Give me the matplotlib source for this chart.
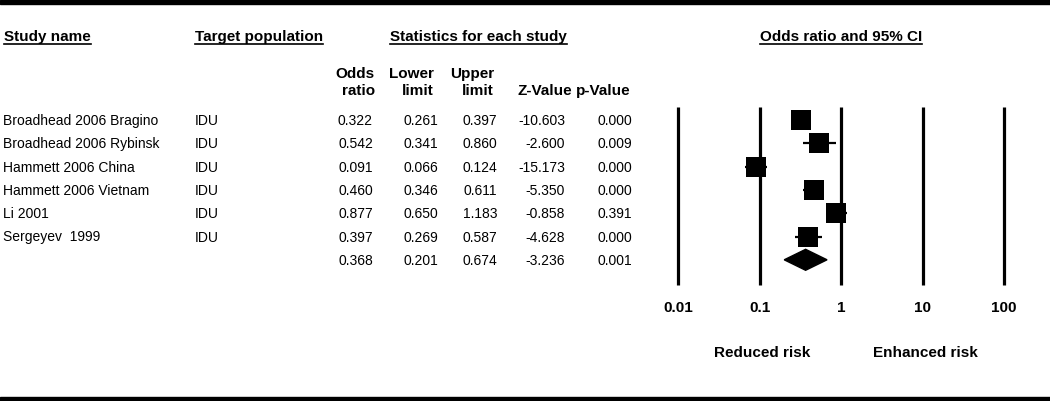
import matplotlib
matplotlib.use("Agg")
import matplotlib.pyplot as plt
from matplotlib.patches import Polygon, Rectangle

plt.rcParams['font.family'] = ['Liberation Sans', 'DejaVu Sans']

# data
studies = ["Broadhead 2006 Bragino", "Broadhead 2006 Rybinsk", "Hammett 2006 China",
           "Hammett 2006 Vietnam", "Li 2001", "Sergeyev  1999"]
population = ["IDU", "IDU", "IDU", "IDU", "IDU", "IDU"]
odds_ratio = [0.322, 0.542, 0.091, 0.460, 0.877, 0.397]
lower = [0.261, 0.341, 0.066, 0.346, 0.650, 0.269]
upper = [0.397, 0.860, 0.124, 0.611, 1.183, 0.587]
z_value = [-10.603, -2.600, -15.173, -5.350, -0.858, -4.628]
p_value = [0.000, 0.009, 0.000, 0.000, 0.391, 0.000]
summary = {"or": 0.368, "lower": 0.201, "upper": 0.674, "z": -3.236, "p": 0.001}
col_headers = ["Odds\nratio", "Lower\nlimit", "Upper\nlimit", "Z-Value", "p-Value"]
ticks = [0.01, 0.1, 1, 10, 100]
tick_labels = ["0.01", "0.1", "1", "10", "100"]

W, H = 1050, 401
fig = plt.figure(figsize=(W / 100, H / 100), dpi=100)
bg = fig.add_axes([0, 0, 1, 1])
bg.set_xlim(0, W)
bg.set_ylim(H, 0)
bg.axis('off')

# black bands top and bottom
bg.add_patch(Rectangle((0, 0), W, 3.5, color='black'))
bg.add_patch(Rectangle((0, H - 4.5), W, 4.5, color='black'))

row0, row_h = 120, 23.3
def row_px(i):
    return row0 + i * row_h

# underlined headers
headers = [("Study name", 4), ("Target population", 195),
           ("Statistics for each study", 390), ("Odds ratio and 95% CI", 760)]
htexts = []
for txt, x in headers:
    htexts.append(bg.text(x, 41, txt, fontsize=11, fontweight='bold', ha='left', va='baseline'))
fig.canvas.draw()
r = fig.canvas.get_renderer()
for t in htexts:
    bb = t.get_window_extent(r)
    bg.plot([bb.x0, bb.x1], [44, 44], color='black', lw=1.2)

# column headers
col_right = [375, 434, 494, 572, 631]
for x, h in zip(col_right, col_headers):
    bg.text(x, 95, h, fontsize=11, fontweight='bold', ha='right', va='baseline',
            multialignment='right', linespacing=1.3)

# table body
num_right = [373, 438, 497, 565, 632]
for i in range(len(studies)):
    y = row_px(i) + 5
    bg.text(3, y, studies[i], fontsize=10, va='baseline')
    bg.text(195, y, population[i], fontsize=10, va='baseline')
    vals = ["%.3f" % odds_ratio[i], "%.3f" % lower[i], "%.3f" % upper[i],
            "%.3f" % z_value[i], "%.3f" % p_value[i]]
    for x, v in zip(num_right, vals):
        bg.text(x, y, v, fontsize=10, ha='right', va='baseline')
y = row_px(len(studies)) + 5
svals = ["%.3f" % summary[k] for k in ["or", "lower", "upper", "z", "p"]]
for x, v in zip(num_right, svals):
    bg.text(x, y, v, fontsize=10, ha='right', va='baseline')

# forest plot
def to_row(p):
    return (p - row0) / row_h

x1_px, dec = 841, 81.5
ax = fig.add_axes([650 / W, 1 - 295 / H, 380 / W, 200 / H])
ax.set_xscale('log')
ax.set_xlim(10 ** ((650 - x1_px) / dec), 10 ** ((1030 - x1_px) / dec))
ax.set_ylim(to_row(295), to_row(95))
ax.axis('off')

ax.vlines(ticks, to_row(107), to_row(285), color='black', lw=2.3)
rows = list(range(len(studies)))
ax.hlines(rows, lower, upper, color='black', lw=1.6)
ax.plot(odds_ratio, rows, 's', color='black', ms=14, mew=0)
n = len(studies)
ax.add_patch(Polygon([(summary["lower"], n), (summary["or"], n - 0.45),
                      (summary["upper"], n), (summary["or"], n + 0.45)],
                     closed=True, color='black'))

for t, lab in zip(ticks, tick_labels):
    ax.text(t, to_row(308), lab, fontsize=11, fontweight='bold', ha='center', va='center',
            clip_on=False)

bg.text(762, 353, "Reduced risk", fontsize=11, fontweight='bold', ha='center', va='center')
bg.text(925, 353, "Enhanced risk", fontsize=11, fontweight='bold', ha='center', va='center')

fig.savefig("out.png", dpi=100)
